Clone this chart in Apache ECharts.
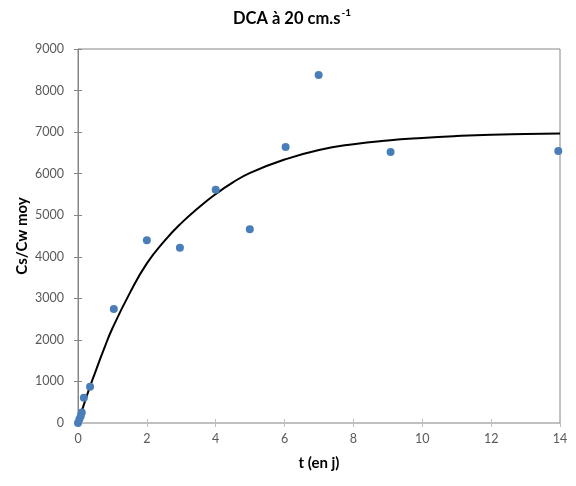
<!DOCTYPE html>
<html>
<head>
<meta charset="utf-8">
<script src="https://cdn.jsdelivr.net/npm/echarts@6/dist/echarts.min.js"></script>
<style>html,body{margin:0;padding:0;background:#fff}#c{width:576px;height:486px}</style>
</head>
<body>
<div id="c"></div>
<script>
// Measured points (t in days, Cs/Cw moy)
const pointT = [0, 0.04, 0.08, 0.11, 0.17, 0.35, 1.04, 2.0, 2.96, 4.0, 4.99, 6.03, 6.99, 9.08, 13.95];
const pointY = [0, 90, 170, 250, 610, 870, 2745, 4400, 4215, 5610, 4665, 6640, 8375, 6520, 6545];
// Fitted curve
const curveT = [0, 0.25, 0.5, 0.75, 1, 1.5, 2, 2.5, 3, 3.5, 4, 4.5, 5, 6, 7, 8, 9, 10, 11, 12, 13, 14];
const curveY = [0, 640, 1220, 1770, 2280, 3120, 3840, 4370, 4810, 5180, 5510, 5790, 6020, 6340, 6570, 6710, 6800, 6860, 6905, 6937, 6953, 6968];
const xTicks = [0, 2, 4, 6, 8, 10, 12, 14];
const yTicks = [0, 1000, 2000, 3000, 4000, 5000, 6000, 7000, 8000, 9000];

const FONT = 'Lato, "Open Sans", sans-serif';
const chart = echarts.init(document.getElementById('c'), null, {renderer: 'canvas'});
const tickLabel = {color: '#595959', fontSize: 12.5, fontFamily: FONT, formatter: v => String(v)};
chart.setOption({
  animation: false,
  title: {
    text: '{a|DCA à 20 cm.s}{b|-1}',
    left: 287, top: 3, textAlign: 'center',
    textStyle: {
      rich: {
        a: {fontSize: 16.5, fontWeight: 'bold', color: '#000', fontFamily: FONT, lineHeight: 22},
        b: {fontSize: 10, fontWeight: 'bold', color: '#000', fontFamily: FONT, verticalAlign: 'top', lineHeight: 12, padding: [0, 0, 8, 1]}
      }
    }
  },
  grid: {left: 78, right: 16, top: 49, bottom: 63, show: true, borderColor: '#868686', borderWidth: 1, backgroundColor: 'transparent'},
  xAxis: [{
    type: 'value', min: xTicks[0], max: xTicks[xTicks.length - 1], interval: 2,
    name: 't (en j)', nameLocation: 'middle', nameGap: 33, nameMoveOverlap: false,
    nameTextStyle: {fontSize: 15, fontWeight: 'bold', color: '#000', fontFamily: FONT},
    axisLine: {show: true, lineStyle: {color: '#bfbfbf', width: 1}},
    axisTick: {show: true, length: 4, lineStyle: {color: '#bfbfbf'}},
    axisLabel: {...tickLabel, margin: 9},
    splitLine: {show: false}
  }, {
    type: 'value', min: xTicks[0], max: xTicks[xTicks.length - 1], interval: 2, position: 'bottom',
    axisLine: {show: false}, axisTick: {show: true, inside: true, length: 4, lineStyle: {color: '#bfbfbf'}},
    axisLabel: {show: false}, splitLine: {show: false}
  }],
  yAxis: [{
    type: 'value', min: yTicks[0], max: yTicks[yTicks.length - 1], interval: 1000,
    name: 'Cs/Cw moy', nameLocation: 'middle', nameGap: 48, nameRotate: 90, nameMoveOverlap: false,
    nameTextStyle: {fontSize: 15, fontWeight: 'bold', color: '#000', fontFamily: FONT},
    axisLine: {show: true, lineStyle: {color: '#868686', width: 1}},
    axisTick: {show: true, length: 4, lineStyle: {color: '#868686'}},
    axisLabel: {...tickLabel, margin: 14},
    splitLine: {show: false}
  }, {
    type: 'value', min: yTicks[0], max: yTicks[yTicks.length - 1], interval: 1000, position: 'left',
    axisLine: {show: false}, axisTick: {show: true, inside: true, length: 4, lineStyle: {color: '#868686'}},
    axisLabel: {show: false}, splitLine: {show: false}
  }],
  series: [{
    type: 'line', smooth: 0.5, showSymbol: false, symbol: 'none',
    data: curveT.map((t, i) => [t, curveY[i]]),
    lineStyle: {color: '#000', width: 2}, z: 2
  }, {
    type: 'scatter', symbolSize: 8,
    data: pointT.map((t, i) => [t, pointY[i]]),
    itemStyle: {color: '#4a7ebb', opacity: 1}, z: 3
  }]
});
</script>
</body>
</html>
